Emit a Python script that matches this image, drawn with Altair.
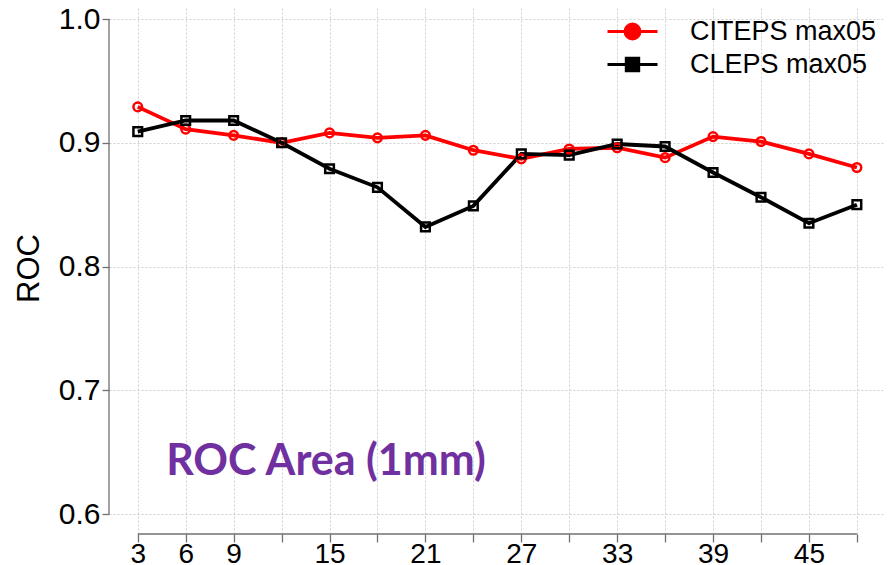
import altair as alt
import pandas as pd

# ---- data ----
LEAD = [3, 6, 9, 12, 15, 18, 21, 24, 27, 30, 33, 36, 39, 42, 45, 48]
CITEPS = [0.929, 0.911, 0.906, 0.900, 0.908, 0.904, 0.906, 0.894,
          0.887, 0.895, 0.896, 0.888, 0.905, 0.901, 0.891, 0.880]
CLEPS = [0.909, 0.918, 0.918, 0.900, 0.879, 0.864, 0.832, 0.849,
         0.891, 0.890, 0.899, 0.897, 0.876, 0.856, 0.835, 0.850]
SERIES = ["CITEPS max05", "CLEPS max05"]
COLORS = ["#ff0000", "#000000"]
Y_TICKS = [0.6, 0.7, 0.8, 0.9, 1.0]
X_TICKS = LEAD
NOTE = "ROC Area (1mm)"
Y_TITLE = "ROC"

df = pd.DataFrame({
    "lead": LEAD + LEAD,
    "roc": CITEPS + CLEPS,
    "series": [SERIES[0]] * len(LEAD) + [SERIES[1]] * len(LEAD),
})

W, H = 776, 526
FONT = "Liberation Sans Narrow, Liberation Sans, Arial, sans-serif"

xscale = alt.Scale(domain=[1.2, 49.76], nice=False, zero=False)
yscale = alt.Scale(domain=[0.5839, 1.0089], nice=False, zero=False)
cscale = alt.Scale(domain=SERIES, range=COLORS)

LEG_PATHS = [
    "M-2.5,0H2.5M-0.75,0A0.75,0.75,0,1,1,0.75,0A0.75,0.75,0,1,1,-0.75,0Z",
    "M-2.5,0H2.5M-0.62,-0.62H0.62V0.62H-0.62Z",
]
sscale = alt.Scale(domain=SERIES, range=LEG_PATHS)

x_axis = alt.Axis(
    values=X_TICKS, title=None, grid=True, domain=False,
    labelExpr="datum.value <= 9 || (datum.value - 3) % 6 == 0 ? datum.label : ''",
    labelFont=FONT, labelFontSize=28, labelColor="#000000", labelPadding=-2,
    tickSize=8, tickColor="#707070", tickWidth=1.3,
    gridColor="#cfcfcf", gridDash=[2, 2], gridWidth=1,
    labelFlush=False, labelOverlap=False,
)
y_axis = alt.Axis(
    values=Y_TICKS, format=".1f", title=Y_TITLE, grid=True, domain=False,
    labelFont=FONT, labelFontSize=30, labelColor="#000000", labelPadding=2,
    tickSize=7, tickColor="#707070", tickWidth=1.3,
    gridColor="#cfcfcf", gridDash=[2, 2], gridWidth=1,
    titleFont="Liberation Sans", titleFontSize=31, titleFontWeight="normal",
    titleColor="#000000", titleX=-80, titleY=260, titleAngle=270,
    titleBaseline="middle", titleAlign="center",
    labelFlush=False, labelOverlap=False,
)
legend = alt.Legend(title=None)

base = alt.Chart(df)
X = alt.X("lead:Q", scale=xscale, axis=x_axis, title=None)
Y = alt.Y("roc:Q", scale=yscale, axis=y_axis, title=Y_TITLE)
C = alt.Color("series:N", scale=cscale, legend=legend)

lines = base.mark_line(strokeWidth=3.8).encode(x=X, y=Y, color=C, detail="series:N")

points = base.mark_point(filled=False, size=75, strokeWidth=2.5, opacity=1).encode(
    x=X, y=Y, color=C,
    shape=alt.condition(alt.datum.series == SERIES[0], alt.value("circle"), alt.value("square")),
)

legend_layer = base.transform_filter("false").mark_point(
    filled=False, opacity=1, strokeWidth=3
).encode(
    x=X, y=Y, color=C,
    fill=alt.Fill("series:N", scale=cscale, legend=legend),
    shape=alt.Shape("series:N", scale=sscale, legend=legend),
)

axis_df = pd.DataFrame({"k": [0]})
y_line = alt.Chart(axis_df).mark_rule(color="#707070", strokeWidth=1.3).encode(
    x=alt.value(0),
    y=alt.Y(datum=Y_TICKS[0], scale=yscale, axis=y_axis, title=Y_TITLE),
    y2=alt.Y2(datum=Y_TICKS[-1]),
)
x_line = alt.Chart(axis_df).mark_rule(color="#707070", strokeWidth=1.3).encode(
    y=alt.value(H),
    x=alt.X(datum=X_TICKS[0], scale=xscale, axis=x_axis, title=None),
    x2=alt.X2(datum=X_TICKS[-1]),
)

note = alt.Chart(pd.DataFrame({"t": [NOTE]})).mark_text(
    font="Lato", fontSize=43, fontWeight="bold", color="#7030A0",
    align="center", baseline="alphabetic",
).encode(text="t:N", x=alt.value(217), y=alt.value(467))

chart = alt.layer(lines, points, legend_layer, y_line, x_line, note).properties(
    width=W, height=H,
    autosize=alt.AutoSizeParams(type="none"),
    padding={"left": 101, "top": 0, "right": 0, "bottom": 31},
).configure_view(stroke=None).configure_legend(
    orient="none", legendX=510, legendY=10, padding=0,
    symbolSize=400, symbolStrokeWidth=3, symbolOpacity=1,
    labelFont="Liberation Sans", labelFontSize=27, labelColor="#000000",
    labelOffset=44, rowPadding=5, labelLimit=0,
)

chart.save("out.html", embed_options={"renderer": "svg", "actions": False})
